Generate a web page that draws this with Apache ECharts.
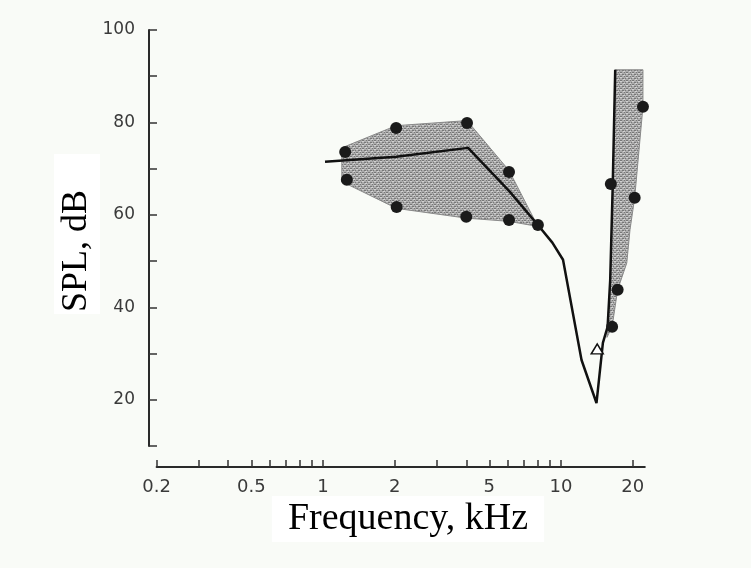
<!DOCTYPE html>
<html>
<head>
<meta charset="utf-8">
<script src="https://cdn.jsdelivr.net/npm/echarts@6/dist/echarts.min.js"></script>
<style>
  html, body { margin: 0; padding: 0; background: #f9fbf7; }
  #chart { width: 751px; height: 568px; }
</style>
</head>
<body>
<div id="chart"></div>
<script>
// Frequency axis (kHz, logarithmic) ticks and labels
const freqTicks = [0.2, 0.3, 0.4, 0.5, 0.6, 0.7, 0.8, 0.9, 1, 2, 3, 4, 5, 6, 7, 8, 9, 10, 20];
const freqLabels = [0.2, 0.5, 1, 2, 5, 10, 20];

// Threshold curve: frequency (kHz) and SPL (dB)
const curveFreq = [1.02, 2.03, 4.07, 6.05, 8.0, 9.2, 10.2, 12.2, 14.1, 15.0, 15.7, 16.1, 16.5, 16.9];
const curveSpl  = [71.5, 72.6, 74.5, 65.2, 57.8, 54.0, 50.3, 28.6, 19.3, 32.3, 35.8, 45.9, 66.5, 91.4];

// Measured points (filled circles)
const dotFreq = [1.24, 1.26, 2.03, 2.04, 4.03, 4.0, 6.05, 6.05, 8.0, 16.2, 16.4, 17.3, 20.4, 22.1];
const dotSpl  = [73.6, 67.6, 78.8, 61.7, 79.9, 59.6, 69.3, 58.9, 57.8, 66.7, 35.8, 43.8, 63.7, 83.4];

// Single open-triangle point
const triFreq = [14.2];
const triSpl  = [31.0];

// Shaded range, mid frequencies (outline vertices)
const bandMidFreq = [1.2, 2.03, 4.03, 6.05, 8.0, 6.05, 4.0, 2.04, 1.2];
const bandMidSpl  = [74.5, 79.3, 80.4, 69.6, 57.5, 58.6, 59.3, 61.4, 67.2];

// Shaded range, high frequencies (outline vertices)
const bandHighFreq = [16.9, 22.1, 22.1, 20.4, 19.5, 18.9, 17.3, 16.4, 15.6, 16.1, 16.5];
const bandHighSpl  = [91.4, 91.4, 83.4, 63.7, 56.8, 49.6, 43.8, 35.8, 33.5, 45.9, 66.5];

const zip = (a, b) => a.map((v, i) => [v, b[i]]);

// Stippled grey texture for the shaded ranges
function makeStipple() {
  const c = document.createElement('canvas');
  c.width = 6; c.height = 4;
  const g = c.getContext('2d');
  g.fillStyle = '#ababab'; g.fillRect(0, 0, 6, 4);
  g.fillStyle = '#777777';
  [[0,0],[3,0],[1,2],[4,2],[2,0],[5,2]].forEach(p => g.fillRect(p[0], p[1], 1, 1));
  g.fillStyle = '#d2d2d2';
  [[2,1],[5,3],[0,3],[3,1]].forEach(p => g.fillRect(p[0], p[1], 1, 1));
  return c;
}
const stipple = makeStipple();

function polygonSeries(points) {
  return {
    type: 'custom',
    coordinateSystem: 'cartesian2d',
    silent: true,
    z: 1,
    data: [points[0]],
    renderItem: function (params, api) {
      const pts = points.map(p => api.coord(p));
      return {
        type: 'polygon',
        shape: { points: pts },
        style: { fill: { image: stipple, repeat: 'repeat' }, stroke: '#8a8a8a', lineWidth: 1 }
      };
    }
  };
}

const chart = echarts.init(document.getElementById('chart'), null, { renderer: 'canvas' });

chart.setOption({
  backgroundColor: '#f9fbf7',
  animation: false,
  grid: { left: 156.6, right: 106.2, top: 30, bottom: 122, containLabel: false },
  xAxis: {
    type: 'log',
    logBase: 10,
    min: 0.2,
    max: 22.5,
    offset: 21,
    axisLine: { show: true, lineStyle: { color: '#2a2a2a', width: 2 } },
    axisTick: { show: true, inside: true, length: 7, customValues: freqTicks, lineStyle: { color: '#333', width: 1.5 } },
    minorTick: { show: false },
    axisLabel: {
      customValues: freqLabels,
      margin: 11,
      fontFamily: 'DejaVu Sans',
      fontSize: 18,
      color: '#3a3a3a',
      formatter: v => String(+(+v).toPrecision(2))
    },
    splitLine: { show: false },
    minorSplitLine: { show: false }
  },
  yAxis: {
    type: 'value',
    min: 10,
    max: 100,
    interval: 10,
    offset: 7.6,
    axisLine: { show: true, lineStyle: { color: '#2a2a2a', width: 2 } },
    axisTick: { show: true, inside: true, length: 8, lineStyle: { color: '#333', width: 1.5 } },
    axisLabel: {
      margin: 14,
      fontFamily: 'DejaVu Sans',
      fontSize: 17,
      color: '#3a3a3a',
      formatter: v => (v % 20 === 0 ? String(v) : '')
    },
    splitLine: { show: false }
  },
  graphic: [
    {
      type: 'text',
      x: 77, y: 234,
      rotation: Math.PI / 2,
      z: 10,
      style: {
        text: 'SPL, dB',
        font: '36px "Liberation Serif"',
        fill: '#000',
        align: 'center',
        verticalAlign: 'middle',
        backgroundColor: '#ffffff',
        padding: [0, 36, 10, 2]
      }
    },
    {
      type: 'text',
      x: 408, y: 519,
      z: 10,
      style: {
        text: 'Frequency, kHz',
        font: '38px "Liberation Serif"',
        fill: '#000',
        align: 'center',
        verticalAlign: 'middle',
        backgroundColor: '#ffffff',
        padding: [4, 16, 4, 16]
      }
    }
  ],
  series: [
    polygonSeries(zip(bandMidFreq, bandMidSpl)),
    polygonSeries(zip(bandHighFreq, bandHighSpl)),
    {
      type: 'line',
      data: zip(curveFreq, curveSpl),
      showSymbol: false,
      symbol: 'none',
      z: 3,
      lineStyle: { color: '#111', width: 2.5 }
    },
    {
      type: 'scatter',
      data: zip(dotFreq, dotSpl),
      symbol: 'circle',
      symbolSize: 12,
      z: 4,
      itemStyle: { color: '#1a1a1a', opacity: 1 }
    },
    {
      type: 'scatter',
      data: zip(triFreq, triSpl),
      symbol: 'triangle',
      symbolSize: [12, 10],
      z: 4,
      itemStyle: { color: '#ffffff', borderColor: '#111', borderWidth: 1.5, opacity: 1 }
    }
  ]
});
</script>
</body>
</html>
